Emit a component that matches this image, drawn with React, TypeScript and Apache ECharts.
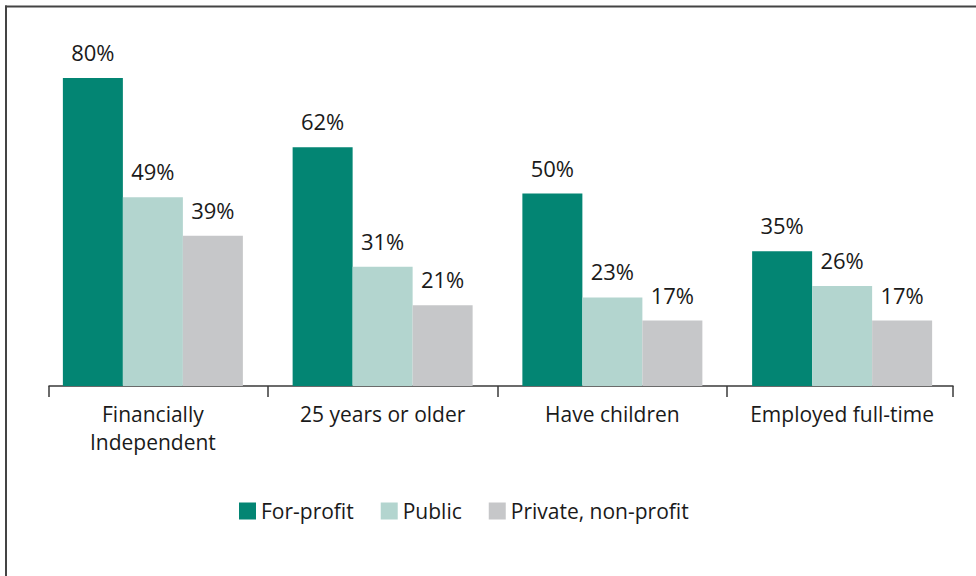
import React, { useEffect, useRef } from "react";
import * as echarts from "echarts";

const categories = ["Financially\nIndependent", "25 years or older", "Have children", "Employed full-time"];
const seriesNames = ["For-profit", "Public", "Private, non-profit"];
const forProfit = [80, 62, 50, 35];
const publicVals = [49, 31, 23, 26];
const privateVals = [39, 21, 17, 17];
const colors = ["#038573", "#b3d5cf", "#c6c7c9"];
// tick positions in category units (boundaries between groups, plus axis ends)
const axisStart = 0.048;
const axisEnd = 3.983;
const tickValues = [axisStart, 1, 2, 3, axisEnd];

const FONT = "'Open Sans', 'Noto Sans', sans-serif";

export default function App() {
  const ref = useRef<HTMLDivElement>(null);
  useEffect(() => {
    if (!ref.current) return;
    const chart = echarts.init(ref.current, undefined, { renderer: "svg" });
    const mk = (name: string, data: number[], color: string) => ({
      name,
      type: "bar",
      data,
      xAxisIndex: 0,
      yAxisIndex: 0,
      barGap: "0%",
      barWidth: 60,
      itemStyle: { color },
      label: {
        show: true,
        position: "top",
        distance: 15,
        formatter: "{c}%",
        color: "#1a1a1a",
        fontSize: 22,
        fontFamily: FONT,
      },
    });
    chart.setOption({
      animation: false,
      textStyle: { fontFamily: FONT },
      grid: [
        { left: 38, right: 19, top: 1, bottom: 190, containLabel: false },
        { left: 49, right: 23, top: 1, bottom: 190, containLabel: false },
      ],
      legend: {
        left: 234,
        top: 495.5,
        itemWidth: 17,
        itemHeight: 17,
        itemGap: 27,
        icon: "rect",
        textStyle: { color: "#1a1a1a", fontSize: 21, fontFamily: FONT },
        data: seriesNames,
      },
      xAxis: [
        {
          type: "category",
          gridIndex: 0,
          data: categories,
          axisLine: { show: false },
          axisTick: { show: false },
          axisLabel: {
            color: "#1a1a1a",
            fontSize: 21,
            fontFamily: FONT,
            margin: 14,
            lineHeight: 28,
            interval: 0,
          },
        },
        {
          type: "value",
          gridIndex: 1,
          min: axisStart,
          max: axisEnd,
          splitLine: { show: false },
          axisLabel: { show: false },
          axisLine: { show: true, lineStyle: { color: "#3a3a3a", width: 1.5 } },
          axisTick: {
            show: true,
            length: 11,
            customValues: tickValues,
            lineStyle: { color: "#3a3a3a", width: 1.5 },
          },
        },
      ],
      yAxis: [
        { type: "value", gridIndex: 0, min: 0, max: 100, show: false },
        { type: "value", gridIndex: 1, min: 0, max: 100, show: false },
      ],
      graphic: [
        { type: "line", shape: { x1: 5, y1: 6.5, x2: 976, y2: 6.5 }, style: { stroke: "#444", lineWidth: 2 } },
        { type: "line", shape: { x1: 6, y1: 5.5, x2: 6, y2: 576 }, style: { stroke: "#444", lineWidth: 2 } },
      ],
      series: [
        mk(seriesNames[0], forProfit, colors[0]),
        mk(seriesNames[1], publicVals, colors[1]),
        mk(seriesNames[2], privateVals, colors[2]),
      ],
    });
    return () => chart.dispose();
  }, []);
  return <div ref={ref} style={{ width: 976, height: 576, position: "absolute", left: 0, top: 0 }} />;
}
